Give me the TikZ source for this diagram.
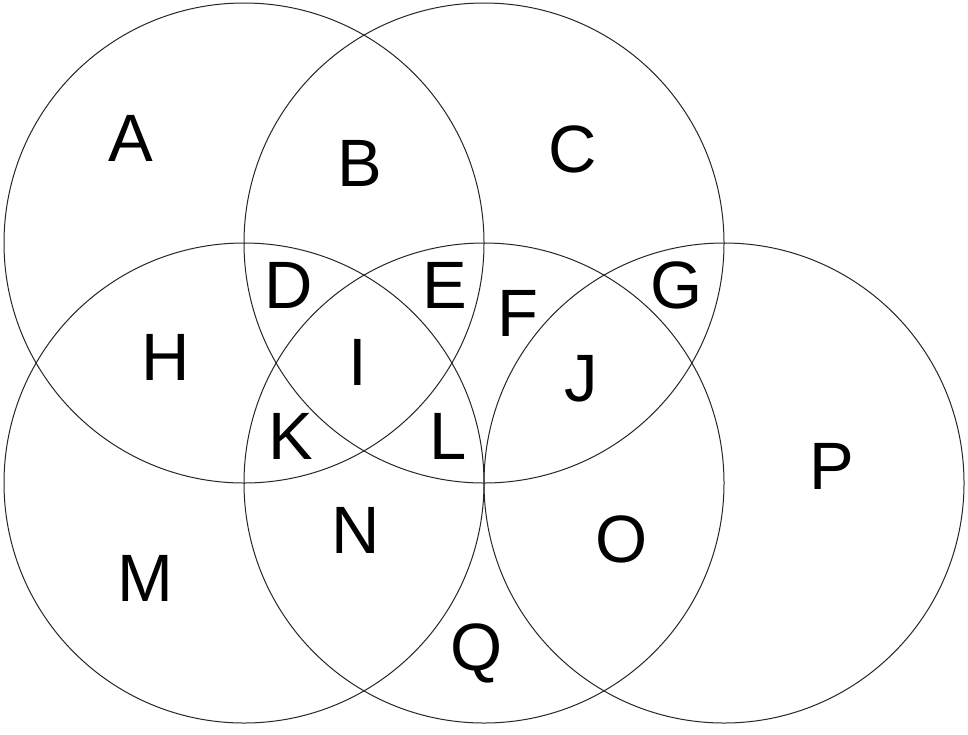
\documentclass[tikz,border=0pt]{standalone}
\usepackage{fontspec}
\setmainfont{Liberation Sans}
\begin{document}
\begin{tikzpicture}[x=1pt,y=-1pt,
  ring/.style={draw=black!85,line width=1pt},
  lbl/.style={anchor=base,inner sep=0pt,font=\fontsize{67}{67}\selectfont}]
\useasboundingbox (0,0) rectangle (968,734);
\fill[white] (0,0) rectangle (968,734);
\draw[ring] (244,243) circle[radius=240];
\draw[ring] (484,243) circle[radius=240];
\draw[ring] (244,483) circle[radius=240];
\draw[ring] (484,483) circle[radius=240];
\draw[ring] (724,483) circle[radius=240];
\node[lbl] (A) at (131,161) {A};
\node[lbl] (B) at (360,186) {B};
\node[lbl] (C) at (573,172) {C};
\node[lbl] (D) at (289,308) {D};
\node[lbl] (E) at (445,308) {E};
\node[lbl] (F) at (518,336) {F};
\node[lbl] (G) at (677,308) {G};
\node[lbl] (H) at (166,380) {H};
\node[lbl] (I) at (358,385) {I};
\node[lbl] (J) at (581,401) {J};
\node[lbl] (K) at (291,459) {K};
\node[lbl] (L) at (448,459) {L};
\node[lbl] (M) at (145,601) {M};
\node[lbl] (N) at (356,553) {N};
\node[lbl] (O) at (622,562) {O};
\node[lbl] (P) at (832,489) {P};
\node[lbl] (Q) at (477,670) {Q};
\end{tikzpicture}
\end{document}
